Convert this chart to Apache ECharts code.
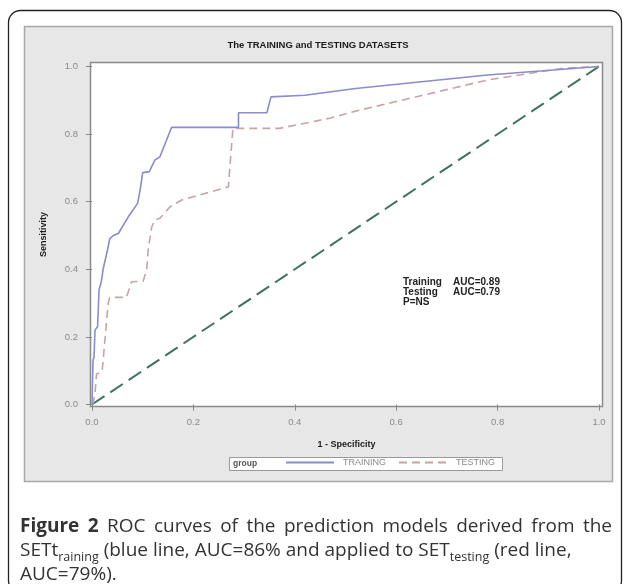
<!DOCTYPE html>
<html>
<head>
<meta charset="utf-8">
<script src="https://cdn.jsdelivr.net/npm/echarts@6/dist/echarts.min.js"></script>
<style>
html,body{margin:0;padding:0;background:#fff;}
#c{width:629px;height:584px;}
</style>
</head>
<body>
<div id="c"></div>
<script>
// ---- data ----
const xTicks = [0, 0.2, 0.4, 0.6, 0.8, 1.0];
const yTicks = [0, 0.2, 0.4, 0.6, 0.8, 1.0];
const trainingFPR  = [0, 0.002, 0.004, 0.006, 0.011, 0.014, 0.018, 0.022, 0.028, 0.031, 0.035, 0.042, 0.052, 0.072, 0.090, 0.095, 0.100, 0.113, 0.124, 0.134, 0.146, 0.157, 0.289, 0.289, 0.345, 0.353, 0.420, 0.520, 0.780, 1.0];
const trainingTPR  = [0, 0.130, 0.140, 0.220, 0.230, 0.340, 0.360, 0.400, 0.440, 0.460, 0.490, 0.500, 0.506, 0.556, 0.595, 0.635, 0.686, 0.689, 0.723, 0.733, 0.778, 0.820, 0.820, 0.863, 0.863, 0.910, 0.915, 0.935, 0.975, 1.0];
const testingFPR   = [0, 0.003, 0.006, 0.009, 0.020, 0.022, 0.032, 0.035, 0.068, 0.078, 0.101, 0.108, 0.111, 0.118, 0.124, 0.134, 0.154, 0.177, 0.269, 0.278, 0.370, 0.469, 0.520, 0.780, 0.930, 1.0];
const testingTPR   = [0, 0.008, 0.033, 0.090, 0.097, 0.102, 0.300, 0.317, 0.317, 0.363, 0.365, 0.400, 0.460, 0.526, 0.546, 0.551, 0.585, 0.605, 0.644, 0.817, 0.817, 0.847, 0.868, 0.960, 0.995, 1.0];
const diagonalX = [0, 1];
const diagonalY = [0, 1];
const seriesNames = ['TRAINING', 'TESTING'];
const chartTitle = 'The TRAINING and TESTING DATASETS';
const xName = '1 - Specificity';
const yName = 'Sensitivity';
const statsLabels = ['Training', 'Testing', 'P=NS'];
const statsValues = ['AUC=0.89', 'AUC=0.79', ''];
const legendTitle = 'group';

const zip = (a, b) => a.map((v, i) => [v, b[i]]);

const chart = echarts.init(document.getElementById('c'), null, {renderer: 'canvas'});

// ---- caption layout via text measurement ----
const mctx = document.createElement('canvas').getContext('2d');
function tw(text, font) { mctx.font = font; return mctx.measureText(text).width; }
const capFam = '"Open Sans", "Noto Sans", sans-serif';
const capSize = 19;
const fN = capSize + 'px ' + capFam;
const fB = 'bold ' + capSize + 'px ' + capFam;
const fS = '12.5px ' + capFam;
const capColor = '#333';
const capLeft = 20, capRight = 612;
const graphics = [];

function addText(x, y, text, font) {
  graphics.push({type: 'text', silent: true,
    style: {text: text, x: x, y: y, font: font, fill: capColor, verticalAlign: 'middle'}});
}
// line 1 justified
const line1 = [['Figure', fB], ['2', fB], ['ROC', fN], ['curves', fN], ['of', fN], ['the', fN], ['prediction', fN], ['models', fN], ['derived', fN], ['from', fN], ['the', fN]];
const wordsW = line1.reduce((s, w) => s + tw(w[0], w[1]), 0);
const gap = (capRight - capLeft - wordsW) / (line1.length - 1);
let cx = capLeft;
const y1 = 527;
line1.forEach(w => { addText(cx, y1, w[0], w[1]); cx += tw(w[0], w[1]) + gap; });
// line 2 with subscripts
const line2 = [['SETt', fN, 0], ['raining', fS, 6], [' (blue line, AUC=86% and applied to SET', fN, 0], ['testing', fS, 6], [' (red line,', fN, 0]];
cx = capLeft;
const y2 = 551;
line2.forEach(s => { addText(cx, y2 + s[2], s[0], s[1]); cx += tw(s[0], s[1]); });
addText(capLeft, 575, 'AUC=79%).', fN);

const sasFont = '"Liberation Sans", Arial, sans-serif';
const frame = [
  {type: 'rect', silent: true, z: -10, shape: {x: 8.5, y: 10.5, width: 613, height: 582, r: 12}, style: {fill: '#fff', stroke: '#222', lineWidth: 1.3}},
  {type: 'rect', silent: true, z: -9, shape: {x: 24.5, y: 26.5, width: 588, height: 455}, style: {fill: '#e7e7e7', stroke: '#a8a8a8', lineWidth: 1.5}},
  {type: 'rect', silent: true, z: -8, shape: {x: 90.5, y: 62.5, width: 512, height: 344}, style: {fill: '#fff', stroke: '#8a8a8a', lineWidth: 1.5}},
  {type: 'text', silent: true, style: {text: chartTitle, x: 318, y: 45, align: 'center', verticalAlign: 'middle', font: 'bold 9.5px ' + sasFont, fill: '#1a1a1a'}},
  {type: 'rect', silent: true, shape: {x: 229.5, y: 457.5, width: 273, height: 13}, style: {fill: '#fff', stroke: '#9a9a9a', lineWidth: 1}},
  {type: 'text', silent: true, style: {text: legendTitle, x: 233, y: 464, verticalAlign: 'middle', font: 'bold 8.5px ' + sasFont, fill: '#555'}}
];
statsLabels.forEach((l, i) => {
  frame.push({type: 'text', silent: true, style: {text: l, x: 403, y: 282 + i * 10, verticalAlign: 'middle', font: 'bold 10px ' + sasFont, fill: '#222'}});
  if (statsValues[i]) frame.push({type: 'text', silent: true, style: {text: statsValues[i], x: 453, y: 282 + i * 10, verticalAlign: 'middle', font: 'bold 10px ' + sasFont, fill: '#222'}});
});

const axisCommon = {
  type: 'value',
  nameLocation: 'middle',
  nameTextStyle: {fontFamily: sasFont, fontWeight: 'bold', fontSize: 9, color: '#1a1a1a'},
  axisLine: {show: false},
  splitLine: {show: false},
  axisTick: {show: true, inside: false, length: 6, lineStyle: {color: '#888', width: 1}},
  axisLabel: {fontFamily: sasFont, fontSize: 9.5, color: '#8a8a8a', margin: 10, formatter: v => v.toFixed(1)}
};

const option = {
  animation: false,
  backgroundColor: 'transparent',
  graphic: {elements: frame.concat(graphics)},
  grid: {left: 90, right: 26, top: 62, bottom: 177, containLabel: false},
  xAxis: Object.assign({}, axisCommon, {
    min: -0.0039, max: 1.0079, name: xName, nameGap: 33,
    axisTick: Object.assign({}, axisCommon.axisTick, {customValues: xTicks}),
    axisLabel: Object.assign({}, axisCommon.axisLabel, {customValues: xTicks})
  }),
  yAxis: Object.assign({}, axisCommon, {
    min: -0.0074, max: 1.0133, name: yName, nameGap: 42, nameRotate: 90,
    axisTick: Object.assign({}, axisCommon.axisTick, {customValues: yTicks}),
    axisLabel: Object.assign({}, axisCommon.axisLabel, {margin: 12, customValues: yTicks})
  }),
  legend: {
    data: seriesNames,
    left: 285, top: 458,
    itemWidth: 48, itemHeight: 10, itemGap: 12,
    padding: 0,
    itemStyle: {opacity: 0},
    textStyle: {fontFamily: sasFont, fontSize: 9, color: '#8a8a8a', padding: [0, 0, 0, 4]}
  },
  series: [
    {name: 'diagonal', type: 'line', data: zip(diagonalX, diagonalY), symbol: 'none', z: 1,
     lineStyle: {color: '#3f7264', width: 2, type: [15, 7]}},
    {name: seriesNames[1], type: 'line', data: zip(testingFPR, testingTPR), symbol: 'none', z: 2, clip: false,
     itemStyle: {color: '#c9a2a4'}, lineStyle: {color: '#c9a2a4', width: 1.6, type: [8, 5]}},
    {name: seriesNames[0], type: 'line', data: zip(trainingFPR, trainingTPR), symbol: 'none', z: 3, clip: false,
     itemStyle: {color: '#8a8ccc'}, lineStyle: {color: '#8a8ccc', width: 1.6}}
  ]
};
chart.setOption(option);
</script>
</body>
</html>
